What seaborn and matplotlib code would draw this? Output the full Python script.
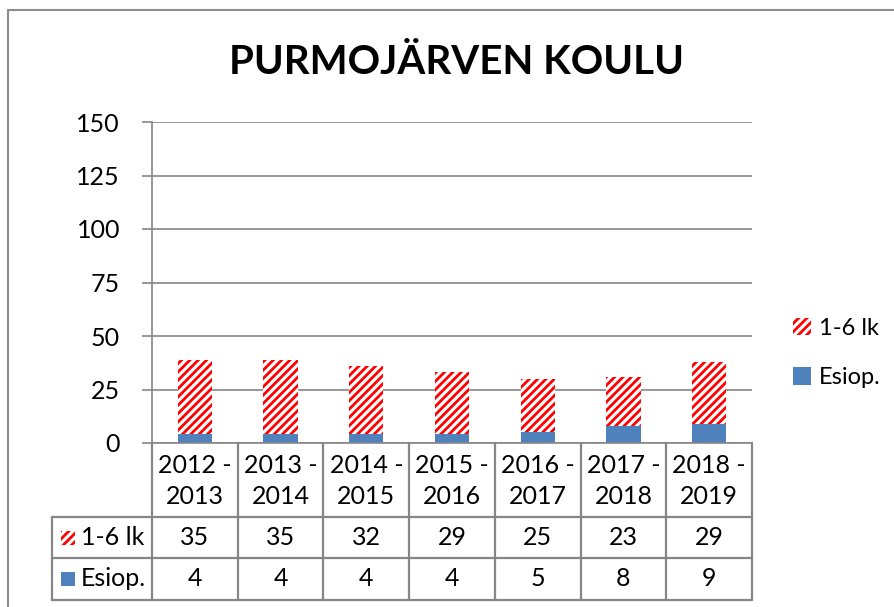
import numpy as np
import pandas as pd
import seaborn as sns
import matplotlib.pyplot as plt
from matplotlib.patches import Patch, Rectangle
from matplotlib.lines import Line2D

years = ["2012 -\n2013", "2013 -\n2014", "2014 -\n2015", "2015 -\n2016",
         "2016 -\n2017", "2017 -\n2018", "2018 -\n2019"]
lk16 = [35, 35, 32, 29, 25, 23, 29]
esiop = [4, 4, 4, 4, 5, 8, 9]
series_names = ["1-6 lk", "Esiop."]
yticks = [0, 25, 50, 75, 100, 125, 150]

df = pd.DataFrame({"year": years, "lk16": lk16, "esiop": esiop})
df["total"] = df["lk16"] + df["esiop"]

sns.set_theme(style="white")
plt.rcParams["font.family"] = ["Lato", "DejaVu Sans"]
plt.rcParams["hatch.linewidth"] = 2.0
plt.rcParams["text.color"] = "black"
plt.rcParams["ytick.labelcolor"] = "black"

BLUE = "#4F81BD"
GRID = "#868686"
FS = 18
HATCH = "////"

W, H = 895, 607
fig = plt.figure(figsize=(W / 100, H / 100), dpi=100)
# plot area in pixels
x0, x1, ytop, ybot = 152, 752, 122, 443
ax = fig.add_axes([x0 / W, 1 - ybot / H, (x1 - x0) / W, (ybot - ytop) / H])

# stacked bars: totals hatched, esiop drawn over the bottom
sns.barplot(data=df, x="year", y="total", ax=ax, color="white", width=0.4,
            edgecolor="red", linewidth=0, hatch=HATCH, saturation=1)
sns.barplot(data=df, x="year", y="esiop", ax=ax, color=BLUE, width=0.4,
            linewidth=0, saturation=1)

ax.set_xlim(-0.5, len(years) - 0.5)
ax.set_ylim(0, 150)
ax.set_yticks(yticks)
ax.set_yticklabels([str(t) for t in yticks], fontsize=FS, color="black")
ax.yaxis.grid(True, color=GRID, linewidth=1.2)
ax.set_axisbelow(True)
ax.set_xticks([])
ax.set_xlabel("")
ax.set_ylabel("")
for s in ["top", "right"]:
    ax.spines[s].set_visible(False)
for s in ["left", "bottom"]:
    ax.spines[s].set_color(GRID)
    ax.spines[s].set_linewidth(1.2)
ax.tick_params(axis="y", left=True, length=7, width=1.2, color=GRID, pad=16)

# data table under the axis
def fy(py):
    return (ybot - py) / (ybot - ytop)

colw = (x1 - x0) / len(years)
xl = (52 - x0) / colw - 0.5
tr = ax.get_xaxis_transform()
rows = [ybot, 517, 558, 600]
lk = dict(color=GRID, linewidth=1.6, transform=tr, clip_on=False)
for k in range(len(years) + 1):
    ax.plot([k - 0.5, k - 0.5], [fy(rows[0]), fy(rows[3])], **lk)
ax.plot([xl, xl], [fy(rows[1]), fy(rows[3])], **lk)
for r in rows[1:]:
    ax.plot([xl, len(years) - 0.5], [fy(r), fy(r)], **lk)

for i, y in enumerate(years):
    ax.text(i, fy(481), y, ha="center", va="center", fontsize=FS,
            linespacing=1.4, transform=tr)
    ax.text(i, fy(537.5), str(lk16[i]), ha="center", va="center",
            fontsize=FS, transform=tr)
    ax.text(i, fy(579), str(esiop[i]), ha="center", va="center",
            fontsize=FS, transform=tr)

key_w = 14 / colw
kx = (61 - x0) / colw - 0.5
for r, name, fc, ec, ht in [(537.5, series_names[0], "white", "red", HATCH),
                            (579, series_names[1], BLUE, BLUE, None)]:
    ax.add_patch(Rectangle((kx, fy(r + 7)), key_w, 14 / (ybot - ytop),
                           facecolor=fc, edgecolor=ec, linewidth=0, hatch=ht,
                           transform=tr, clip_on=False))
    ax.text(kx + key_w + 6 / colw, fy(r), name, ha="left", va="center",
            fontsize=FS, transform=tr)

# legend on the right
handles = [Patch(facecolor="white", edgecolor="red", hatch=HATCH, linewidth=0,
                 label=series_names[0]),
           Patch(facecolor=BLUE, edgecolor=BLUE, linewidth=0, label=series_names[1])]
fig.legend(handles=handles, loc="center left", bbox_to_anchor=(793 / W, 1 - 353 / H),
           frameon=False, fontsize=17, handlelength=0.75, handleheight=0.75,
           handletextpad=0.35, labelspacing=1.2, borderpad=0, borderaxespad=0)

fig.text(457 / W, 1 - 62 / H, "PURMOJÄRVEN KOULU", ha="center", va="center",
         fontsize=29, fontweight="bold", color="black")

# chart frame
fig.add_artist(Line2D([8 / W, 8 / W], [0, 1 - 10 / H], color="#8c8c8c", linewidth=1.5))
fig.add_artist(Line2D([8 / W, 1], [1 - 10 / H, 1 - 10 / H], color="#8c8c8c", linewidth=1.5))

fig.savefig("out.png", dpi=100, facecolor="white")
